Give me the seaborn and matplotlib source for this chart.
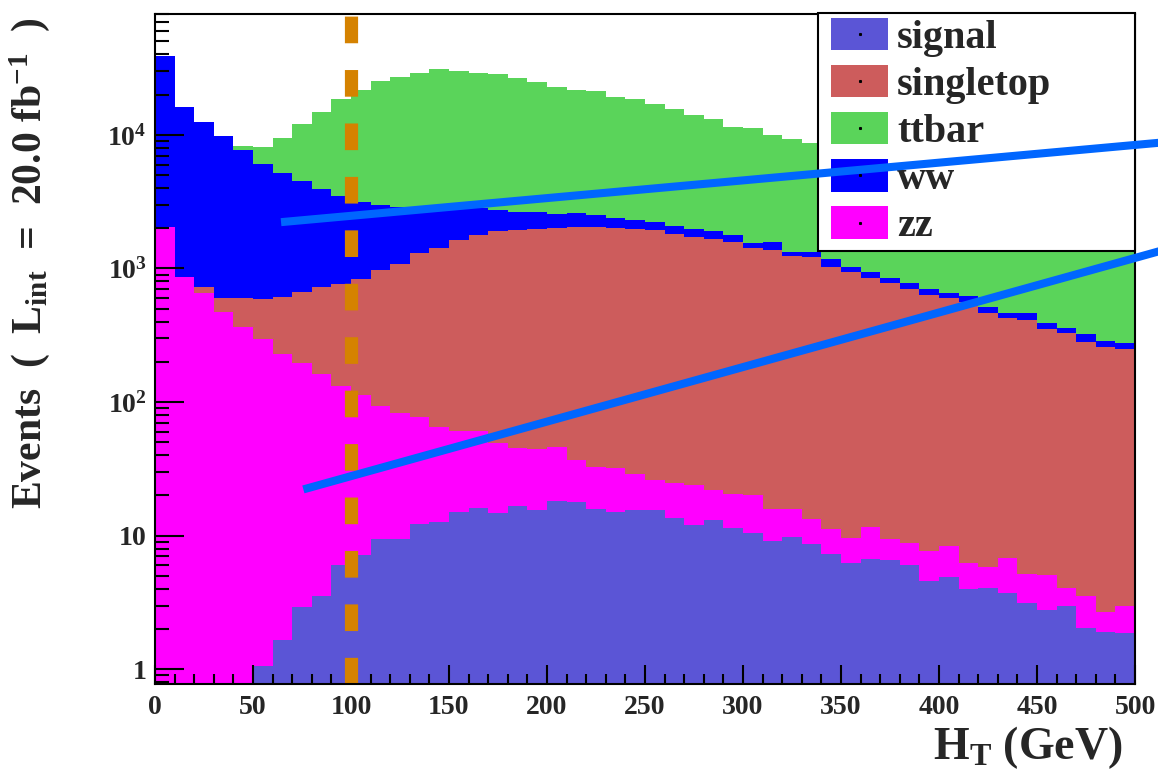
import numpy as np
import pandas as pd
import matplotlib
matplotlib.use("Agg")
import matplotlib.pyplot as plt
from matplotlib.patches import Patch, Rectangle
from matplotlib.lines import Line2D
from matplotlib.legend_handler import HandlerBase
from matplotlib.ticker import FixedLocator, LogLocator, MultipleLocator, NullFormatter
import seaborn as sns

# 10 GeV bins from 0 to 500 GeV
edges = list(range(0, 510, 10))
centers = [e + 5 for e in edges[:-1]]

# visible top of each filled histogram (events per bin)
signal = [0.2, 0.3, 0.4, 0.55, 0.7, 1.06, 1.66, 2.91, 3.56, 6.04,
          7.17, 9.4, 9.4, 12.2, 12.7, 15.1, 16.0, 14.9, 16.8, 15.5,
          18.2, 17.8, 15.8, 15.1, 15.6, 15.6, 13.6, 12.0, 13.1, 11.5,
          10.4, 9.05, 9.84, 8.62, 7.3, 6.28, 6.69, 6.58, 6.04, 4.61,
          4.93, 3.97, 4.04, 3.74, 3.12, 2.78, 2.98, 2.05, 1.91, 1.86]

zz = [2030, 868, 652, 475, 367, 295, 229, 195, 161, 132,
      113, 93.5, 83.4, 77.9, 64.7, 61.1, 61.0, 49.2, 45.1, 44.3,
      45.9, 36.9, 32.9, 32.3, 29.0, 26.1, 24.9, 24.0, 22.0, 20.4,
      20.2, 15.8, 15.8, 13.3, 11.2, 9.66, 11.6, 9.4, 8.78, 7.72,
      8.37, 6.22, 5.80, 6.84, 5.14, 5.08, 4.08, 3.56, 2.70, 2.98]

singletop = [1500, 800, 723, 604, 604, 591, 615, 664, 731, 762,
             830, 975, 1075, 1300, 1415, 1630, 1780, 1900, 1950, 1990,
             2010, 2060, 2050, 2010, 1985, 1940, 1815, 1730, 1655, 1590,
             1415, 1375, 1240, 1210, 1030, 947, 854, 775, 699, 634,
             604, 564, 462, 424, 411, 351, 327, 283, 260, 250]

ww = [39000, 16300, 12400, 9820, 7710, 6060, 5200, 4500, 3930, 3470,
      3130, 2970, 2900, 2870, 2850, 2830, 2820, 2750, 2650, 2650,
      2540, 2620, 2520, 2390, 2300, 2240, 2080, 1975, 1900, 1790,
      1550, 1570, 1335, 1330, 1170, 1030, 947, 854, 775, 699,
      652, 623, 518, 467, 462, 389, 361, 321, 286, 275]

ttbar = [2000, 3000, 4500, 6500, 8300, 8160, 9420, 12080, 14770, 18570,
         21700, 25300, 27000, 29200, 31000, 30200, 29200, 28600, 26500, 25000,
         22700, 21700, 21400, 19300, 18500, 16900, 15600, 14100, 13100, 11500,
         11200, 9980, 9270, 8740, 8100, 7600, 7000, 6600, 6100, 5700,
         5300, 4900, 4600, 4300, 4000, 3700, 3450, 3200, 3000, 2800]

legend_labels = ["signal", "singletop", "ttbar", "ww", "zz"]
colors = {"signal": "#5b55d6", "singletop": "#cd5c5c", "ttbar": "#5ad45a",
          "ww": "#0000ff", "zz": "#ff00ff"}
series = {"signal": signal, "singletop": singletop, "ttbar": ttbar, "ww": ww, "zz": zz}
draw_order = ["ttbar", "ww", "singletop", "zz", "signal"]

# the two hand-drawn lines (start point and point at the right edge of the image)
line_a_x = [64.3, 515.0]
line_a_y = [2222, 8800]
line_b_x = [75.7, 515.0]
line_b_y = [22.2, 1380]
cut_x = 100


class BoxWithDot(HandlerBase):
    # ROOT-like legend box: filled rectangle, small black dot in the middle
    def create_artists(self, legend, orig_handle, xdescent, ydescent,
                       width, height, fontsize, trans):
        off = 5.8
        box = Rectangle((-xdescent + off, -ydescent), width - off, height,
                        facecolor=orig_handle.get_facecolor(), edgecolor="none",
                        transform=trans)
        dot = Line2D([-xdescent + off + (width - off) / 2], [-ydescent + height / 2],
                     ls="", marker="s", ms=1.2, color="black", transform=trans)
        return [box, dot]


sns.set_style("white")
plt.rcParams["font.family"] = ["Liberation Serif", "DejaVu Serif"]
plt.rcParams["font.weight"] = "bold"
plt.rcParams["mathtext.fontset"] = "custom"
plt.rcParams["mathtext.rm"] = "Liberation Serif:bold"
plt.rcParams["mathtext.it"] = "Liberation Serif:bold"
plt.rcParams["mathtext.bf"] = "Liberation Serif:bold"
plt.rcParams["mathtext.default"] = "rm"

fig = plt.figure(figsize=(11.58, 7.75), dpi=100)
ax = fig.add_axes([155 / 1158, 1 - 684 / 775, 980 / 1158, 670 / 775])

for name in draw_order:
    df = pd.DataFrame({"HT": centers, "events": series[name]})
    sns.histplot(data=df, x="HT", weights="events", bins=edges, element="step",
                 fill=True, color=colors[name], alpha=1, linewidth=0, ax=ax)

ax.set_yscale("log")
ax.set_xlim(0, 500)
ax.set_ylim(0.776, 8.03e4)
ax.set_xlabel("")
ax.set_ylabel("")
ax.set_axisbelow(False)

ax.axvline(cut_x, color="#d58200", lw=9.5, dashes=(2.02, 2.03), zorder=4)

ax.plot(line_a_x, line_a_y, color="#0066ff", lw=5.8, solid_capstyle="butt",
        clip_on=False, zorder=10)
ax.plot(line_b_x, line_b_y, color="#0066ff", lw=5.8, solid_capstyle="butt",
        clip_on=False, zorder=10)

# ticks, ROOT style
ax.xaxis.set_major_locator(MultipleLocator(50))
ax.xaxis.set_minor_locator(MultipleLocator(10))
ax.yaxis.set_major_locator(FixedLocator([1, 10, 100, 1000, 10000]))
ax.set_yticklabels([r"$1$", r"$10$", r"$10^{2}$", r"$10^{3}$", r"$10^{4}$"])
ax.yaxis.set_minor_locator(LogLocator(base=10, subs=np.arange(2, 10)))
ax.yaxis.set_minor_formatter(NullFormatter())
ax.tick_params(axis="both", which="both", direction="in", bottom=True, left=True,
               top=False, right=False, width=1.5, color="black", labelsize=20)
ax.tick_params(axis="x", which="major", length=14, pad=8)
ax.tick_params(axis="x", which="minor", length=7)
ax.tick_params(axis="y", which="major", length=21, pad=6)
ax.tick_params(axis="y", which="minor", length=10)
for lab in ax.get_xticklabels() + ax.get_yticklabels():
    lab.set_fontweight("bold")
for sp in ax.spines.values():
    sp.set_color("black")
    sp.set_linewidth(1.5)
    sp.set_zorder(6)

fig.text(1123 / 1158, 1 - 748 / 775, r"H$_{T}$ (GeV)", ha="right", va="center",
         fontsize=33, fontweight="bold")
fig.text(30 / 1158, 1 - 263 / 775, r"Events  (  L$_{int}$  =  20.0 fb$^{-1}$  )",
         rotation=90, ha="center", va="center", fontsize=30, fontweight="bold")

handles = [Patch(facecolor=colors[n], edgecolor="none") for n in legend_labels]
leg = ax.legend(handles, legend_labels, handler_map={Patch: BoxWithDot()},
                loc="upper left", bbox_to_anchor=(0.6765, 0.6478, 0.3235, 0.3537),
                mode="expand", borderaxespad=0, fancybox=False, frameon=True,
                edgecolor="black", framealpha=1,
                prop={"family": "Liberation Serif", "weight": "bold", "size": 29},
                handlelength=1.61, handleheight=0.85, handletextpad=0.22,
                labelspacing=0.2, borderpad=0.13)
leg.get_frame().set_linewidth(1.5)
leg.set_zorder(8)

fig.savefig("out.png", dpi=100)
